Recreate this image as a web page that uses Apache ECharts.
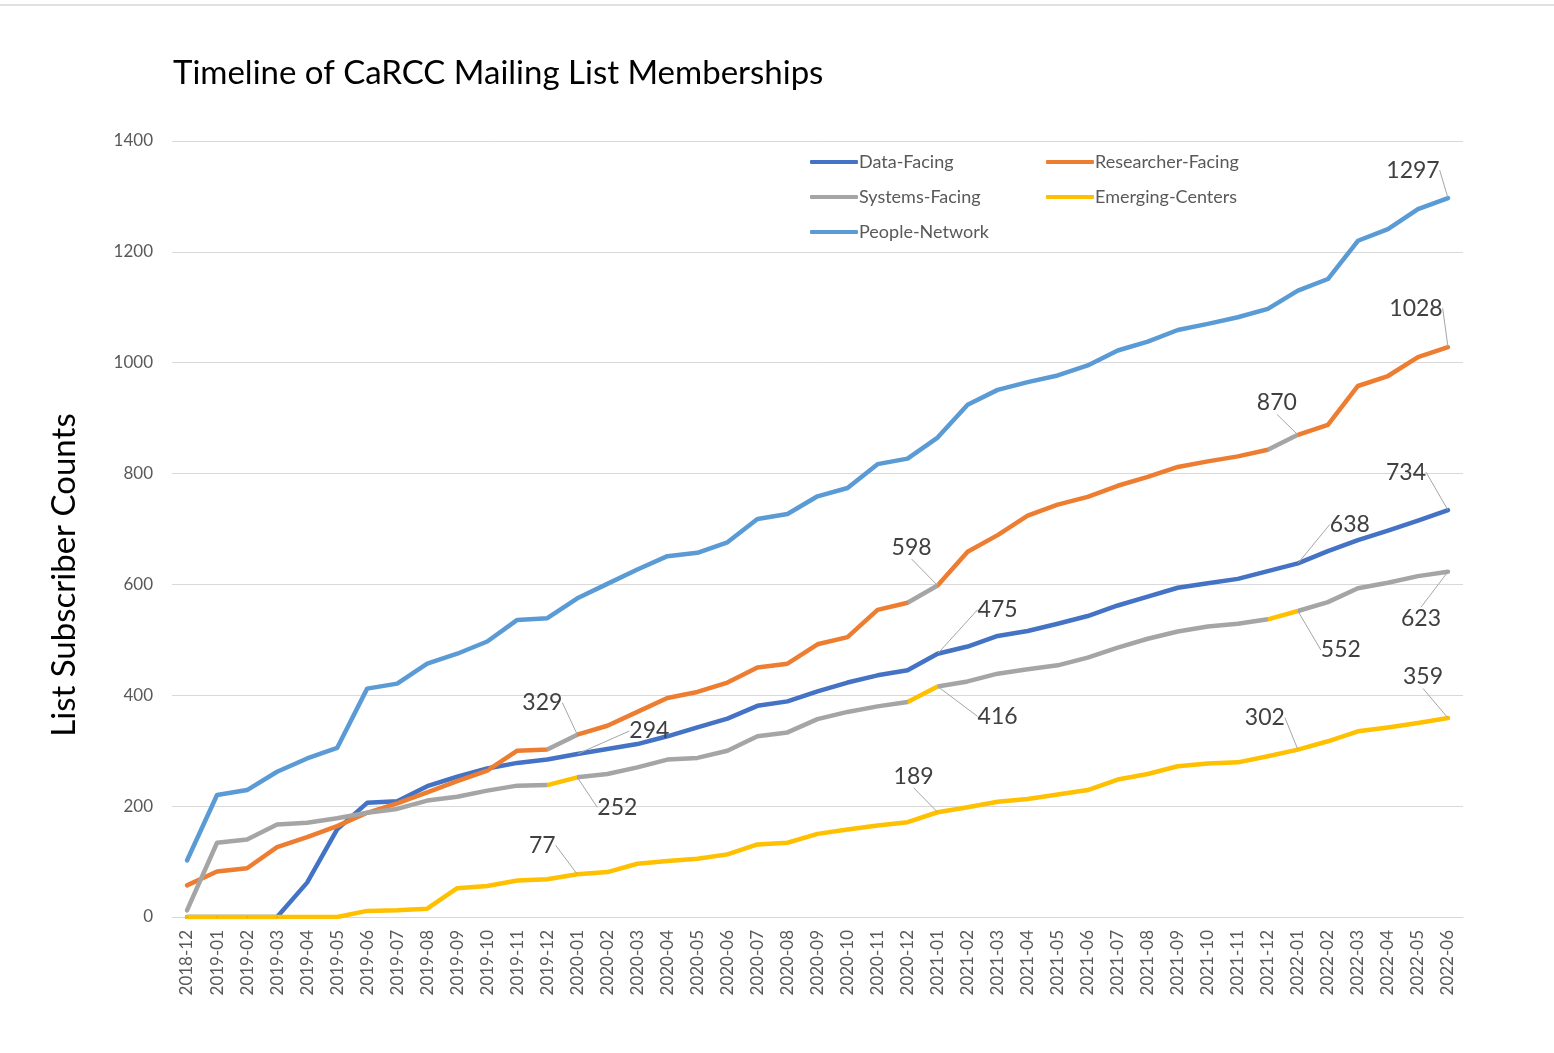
<!DOCTYPE html>
<html>
<head>
<meta charset="utf-8">
<title>Timeline of CaRCC Mailing List Memberships</title>
<script src="https://cdn.jsdelivr.net/npm/echarts@6/dist/echarts.min.js"></script>
<style>
  html, body { margin: 0; padding: 0; background: #fff; }
  #chart { width: 1554px; height: 1053px; }
</style>
</head>
<body>
<div id="chart"></div>
<script>
// months 2018-12 .. 2022-06
var months = [
  '2018-12',
  '2019-01','2019-02','2019-03','2019-04','2019-05','2019-06','2019-07','2019-08','2019-09','2019-10','2019-11','2019-12',
  '2020-01','2020-02','2020-03','2020-04','2020-05','2020-06','2020-07','2020-08','2020-09','2020-10','2020-11','2020-12',
  '2021-01','2021-02','2021-03','2021-04','2021-05','2021-06','2021-07','2021-08','2021-09','2021-10','2021-11','2021-12',
  '2022-01','2022-02','2022-03','2022-04','2022-05','2022-06'
];

var dataFacing = [
  0, 0, 0, 0, 62, 158, 206, 209, 236, 253, 268, 278, 284,
  294, 303, 312, 326, 342, 358, 381, 389, 407, 423, 436, 445,
  475, 488, 507, 516, 529, 543, 562, 578, 594, 602, 610, 624,
  638, 660, 680, 697, 715, 734
];
var researcherFacing = [
  57, 82, 88, 126, 144, 164, 188, 205, 225, 245, 264, 300, 302,
  329, 345, 370, 395, 406, 423, 450, 457, 492, 505, 554, 567,
  598, 659, 689, 724, 744, 758, 778, 794, 812, 822, 831, 843,
  870, 888, 958, 976, 1010, 1028
];
var systemsFacing = [
  12, 134, 140, 167, 170, 178, 188, 195, 210, 217, 228, 237, 238,
  252, 258, 270, 284, 287, 300, 326, 333, 357, 370, 380, 388,
  416, 425, 439, 447, 454, 468, 486, 502, 515, 524, 529, 537,
  552, 568, 593, 603, 615, 623
];
var emergingCenters = [
  0, 0, 0, 0, 0, 0, 11, 12, 15, 52, 56, 66, 68,
  77, 81, 96, 101, 105, 113, 131, 134, 150, 158, 165, 171,
  189, 198, 208, 213, 221, 229, 248, 258, 272, 277, 279, 290,
  302, 317, 335, 342, 350, 359
];
var peopleNetwork = [
  102, 220, 229, 262, 286, 305, 412, 421, 457, 475, 497, 536, 539,
  575, 601, 627, 651, 657, 676, 718, 727, 759, 774, 817, 827,
  865, 924, 951, 965, 977, 995, 1022, 1038, 1059, 1070, 1082, 1097,
  1130, 1151, 1220, 1241, 1277, 1297
];

var seriesNames = ['Data-Facing', 'Researcher-Facing', 'Systems-Facing', 'Emerging-Centers', 'People-Network'];
var seriesValues = [dataFacing, researcherFacing, systemsFacing, emergingCenters, peopleNetwork];
var colors = ['#4472C4', '#ED7D31', '#A5A5A5', '#FFC000', '#5B9BD5'];

// labelled points (index into months) -> label offset from the point
var labelSpots = [
  { 13: [72, -23], 25: [60, -44], 37: [52, -39], 42: [-42, -38] },
  { 13: [-35, -32], 25: [-26, -38], 37: [-21, -32], 42: [-32, -39] },
  { 13: [40, 30], 25: [60, 30], 37: [43, 39], 42: [-27, 47] },
  { 13: [-35, -29], 25: [-24, -36], 37: [-33, -32], 42: [-25, -41] },
  { 42: [-35, -28] }
];

var font = 'Lato, "Open Sans", sans-serif';

var chart = echarts.init(document.getElementById('chart'));

var series = seriesNames.map(function (name, s) {
  var spots = labelSpots[s];
  return {
    name: name,
    type: 'line',
    symbol: 'circle',
    symbolSize: 1,
    showSymbol: true,
    showAllSymbol: true,
    lineStyle: { width: 4.5, cap: 'round', join: 'round' },
    itemStyle: { color: colors[s] },
    label: {
      show: false,
      position: 'inside',
      fontFamily: font,
      fontSize: 23,
      color: '#404040'
    },
    labelLine: { show: false },
    labelLayout: function (params) {
      var off = spots[params.dataIndex];
      if (!off) return {};
      return { dx: off[0], dy: off[1] };
    },
    emphasis: { disabled: true },
    data: seriesValues[s].map(function (v, i) {
      if (spots[i]) {
        return {
          value: v,
          label: { show: true, formatter: String(v) },
          labelLine: { show: true, lineStyle: { color: '#a6a6a6', width: 1 } }
        };
      }
      return v;
    })
  };
});

// segments recoloured as in the original workbook
function sectionPieces(base, other) {
  return [
    { lt: 12, color: base },
    { gte: 12, lt: 13, color: other },
    { gte: 13, lt: 24, color: base },
    { gte: 24, lt: 25, color: other },
    { gte: 25, lt: 36, color: base },
    { gte: 36, lt: 37, color: other },
    { gte: 37, color: base }
  ];
}

var legendText = { fontFamily: font, fontSize: 18, color: '#595959', padding: [0, 0, 0, -4] };

chart.setOption({
  backgroundColor: '#fff',
  animation: false,
  textStyle: { fontFamily: font },
  title: {
    text: 'Timeline of CaRCC Mailing List Memberships',
    left: 168,
    top: 52,
    textStyle: { fontFamily: font, fontSize: 33, fontWeight: 'normal', color: '#000' }
  },
  legend: [{
    data: ['Data-Facing', 'Systems-Facing', 'People-Network'],
    orient: 'vertical',
    left: 805,
    top: 148,
    itemGap: 17,
    itemWidth: 48,
    itemHeight: 4,
    icon: 'roundRect',
    textStyle: legendText
  }, {
    data: ['Researcher-Facing', 'Emerging-Centers'],
    orient: 'vertical',
    left: 1041,
    top: 148,
    itemGap: 17,
    itemWidth: 48,
    itemHeight: 4,
    icon: 'roundRect',
    textStyle: legendText
  }],
  visualMap: [{
    type: 'piecewise',
    show: false,
    dimension: 0,
    seriesIndex: 1,
    pieces: sectionPieces(colors[1], colors[2])
  }, {
    type: 'piecewise',
    show: false,
    dimension: 0,
    seriesIndex: 2,
    pieces: sectionPieces(colors[2], colors[3])
  }],
  grid: {
    left: 172,
    right: 91,
    top: 141,
    bottom: 136
  },
  xAxis: {
    type: 'category',
    data: months,
    boundaryGap: true,
    axisLine: { lineStyle: { color: '#d9d9d9', width: 1 } },
    axisTick: { show: false },
    axisLabel: {
      interval: 0,
      rotate: 90,
      margin: 13,
      fontFamily: font,
      fontSize: 17,
      color: '#595959'
    }
  },
  yAxis: {
    type: 'value',
    min: 0,
    max: 1400,
    interval: 200,
    axisLine: { show: false },
    axisTick: { show: false },
    axisLabel: {
      fontFamily: font,
      fontSize: 17,
      color: '#595959',
      margin: 19,
      formatter: function (v) { return String(v); }
    },
    splitLine: { lineStyle: { color: '#d9d9d9', width: 1 } }
  },
  graphic: [{
    type: 'line',
    shape: { x1: 0, y1: 5, x2: 1554, y2: 5 },
    style: { stroke: '#e0e0e0', lineWidth: 2 }
  }, {
    type: 'text',
    x: 64,
    y: 575,
    rotation: Math.PI / 2,
    style: {
      text: 'List Subscriber Counts',
      fontFamily: font,
      fontSize: 33,
      fill: '#000',
      align: 'center',
      verticalAlign: 'middle'
    }
  }],
  series: series
});
</script>
</body>
</html>
